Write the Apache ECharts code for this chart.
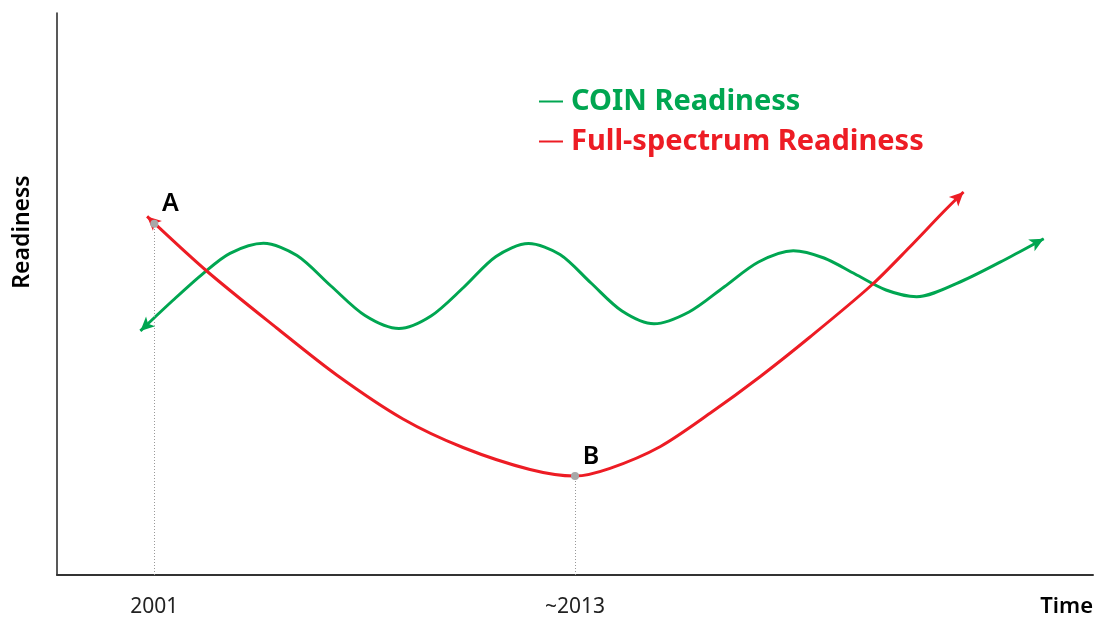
<!DOCTYPE html>
<html>
<head>
<meta charset="utf-8">
<title>COIN vs Full-spectrum Readiness</title>
<script src="https://cdn.jsdelivr.net/npm/echarts@6/dist/echarts.min.js"></script>
<style>
  html, body { margin: 0; padding: 0; background: #fff; }
  #chart { width: 1099px; height: 619px; }
</style>
</head>
<body>
<div id="chart"></div>
<script>
// labelled moments on the time axis
var timeTicks = [9.73, 51.8];
var timeLabels = ['2001', '~2013'];

// COIN readiness (green), first and last points are the arrow heads
var coinX = [8.34, 11.63, 14.63, 17.3, 20.65, 24.0, 27.4, 30.8, 34.2, 37.4, 40.65, 43.9, 47.15,
  50.3, 53.4, 56.5, 59.7, 63.2, 66.7, 70.15, 73.63, 76.7, 79.8, 82.9, 85.97, 90.3, 95.3, 98.67];
var coinY = [24.41, 27.5, 30.17, 32.17, 33.17, 31.95, 28.9, 25.95, 24.65, 25.9, 28.75, 31.85, 33.15,
  32.05, 29.2, 26.4, 25.12, 26.3, 28.8, 31.3, 32.43, 31.7, 30.1, 28.5, 27.83, 29.3, 31.8, 33.62];

// full-spectrum readiness (red)
var fullX = [9.01, 14.97, 21.97, 27.97, 34.6, 40.6, 47.3, 51.8, 55.3, 60.3, 65.3, 70.3, 75.3,
  81.47, 85.3, 88.63, 90.65];
var fullY = [35.86, 30.4, 24.7, 20.0, 15.6, 12.75, 10.55, 9.9, 10.67, 12.83, 16.17, 19.83, 23.8,
  29.0, 32.83, 36.3, 38.3];

// points A and B
var markNames = ['A', 'B'];
var markX = [9.73, 51.8];
var markY = [35.13, 9.9];

var GREEN = '#00a651';
var RED = '#ed1c24';
var FONT = '"Noto Sans", sans-serif';

function zip(xs, ys) {
  return xs.map(function (x, i) { return [x, ys[i]]; });
}

// short segments at both ends carrying the arrow heads
function arrowEnds(xs, ys) {
  var n = xs.length;
  var head = { symbolSize: [10, 14] };
  return [
    [{ coord: [xs[1], ys[1]] }, Object.assign({ coord: [xs[0], ys[0]] }, head)],
    [{ coord: [xs[n - 2], ys[n - 2]] }, Object.assign({ coord: [xs[n - 1], ys[n - 1]] }, head)]
  ];
}

function lineSeries(name, color, xs, ys) {
  return {
    name: name,
    type: 'line',
    data: zip(xs, ys),
    smooth: 0.3,
    showSymbol: false,
    symbol: 'none',
    lineStyle: { color: color, width: 3 },
    itemStyle: { color: color },
    markLine: {
      silent: true,
      symbol: ['none', 'arrow'],
      label: { show: false },
      lineStyle: { color: color, width: 0.5, type: 'solid' },
      emphasis: { disabled: true },
      data: arrowEnds(xs, ys)
    }
  };
}

var chart = echarts.init(document.getElementById('chart'));
chart.setOption({
  animation: false,
  backgroundColor: '#fff',
  grid: { left: 57, right: 6, top: 13, bottom: 44 },
  legend: {
    orient: 'vertical',
    left: 539,
    top: 84,
    padding: 0,
    itemGap: 5,
    itemWidth: 24,
    itemHeight: 2,
    icon: 'rect',
    selectedMode: false,
    textStyle: { fontFamily: FONT, fontSize: 29, fontWeight: 'bold', lineHeight: 35, padding: [0, 0, 0, 3] },
    data: [
      { name: 'COIN Readiness', textStyle: { color: GREEN } },
      { name: 'Full-spectrum Readiness', textStyle: { color: RED } }
    ]
  },
  xAxis: {
    type: 'value',
    min: 0,
    max: 103.6,
    name: 'Time',
    nameLocation: 'end',
    nameGap: 0,
    nameTextStyle: {
      fontFamily: FONT, fontSize: 22, fontWeight: 600, color: '#000',
      align: 'right', verticalAlign: 'top', padding: [21, 0, 0, 0]
    },
    axisLine: { show: true, lineStyle: { color: '#333', width: 2 } },
    axisTick: { show: false },
    splitLine: { show: false },
    axisLabel: {
      customValues: timeTicks,
      margin: 22,
      fontFamily: FONT,
      fontSize: 21,
      color: '#222',
      formatter: function (v) {
        var best = 0;
        timeTicks.forEach(function (t, i) {
          if (Math.abs(t - v) < Math.abs(timeTicks[best] - v)) best = i;
        });
        return timeLabels[best];
      }
    }
  },
  yAxis: {
    type: 'value',
    min: 0,
    max: 56.2,
    axisLine: { show: true, lineStyle: { color: '#222', width: 1.5 } },
    axisTick: { show: false },
    axisLabel: { show: false },
    splitLine: { show: false }
  },
  graphic: [{
    type: 'text',
    x: 22,
    y: 232,
    rotation: Math.PI / 2,
    style: {
      text: 'Readiness',
      font: '600 23px "Noto Sans", sans-serif',
      fill: '#000',
      align: 'center',
      verticalAlign: 'middle'
    }
  }],
  series: [
    lineSeries('COIN Readiness', GREEN, coinX, coinY),
    lineSeries('Full-spectrum Readiness', RED, fullX, fullY),
    {
      name: 'points',
      type: 'scatter',
      data: zip(markX, markY),
      symbolSize: 8,
      itemStyle: { color: '#a8a8a8', opacity: 1 },
      z: 5,
      label: {
        show: true,
        position: 'top',
        offset: [16, 2],
        fontFamily: FONT,
        fontSize: 25,
        fontWeight: 600,
        color: '#000',
        formatter: function (p) { return markNames[p.dataIndex]; }
      },
      markLine: {
        silent: true,
        symbol: 'none',
        label: { show: false },
        lineStyle: { color: '#999', width: 1, type: [1, 2] },
        data: markX.map(function (x, i) {
          return [{ coord: [x, 0] }, { coord: [x, markY[i]] }];
        })
      }
    }
  ]
});
</script>
</body>
</html>
